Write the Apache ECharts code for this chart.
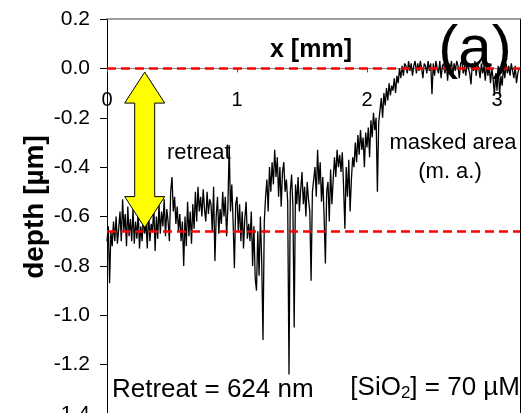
<!DOCTYPE html>
<html>
<head>
<meta charset="utf-8">
<script src="https://cdn.jsdelivr.net/npm/echarts@6/dist/echarts.min.js"></script>
<style>
  html, body { margin: 0; padding: 0; background: #fff; }
  #chart { width: 522px; height: 413px; }
</style>
</head>
<body>
<div id="chart"></div>
<script>
// Surface profile across the etched region into the masked area
const xTickValues = [0, 1, 2, 3];
const xRange = [0, 3.177];
const depthRange = [-1.4, 0.2];
const depthStep = 0.2;
const surfaceLevel = 0;        // original surface (masked area)
const etchedLevel = -0.656;    // mean level of the etched region

// [x (mm), depth (µm)]
const profile = [
  [0.00,-0.70],[0.01,-0.64],[0.02,-0.87],[0.03,-0.66],[0.04,-0.72],[0.05,-0.62],[0.06,-0.70],[0.07,-0.60],[0.08,-0.71],[0.09,-0.65],
  [0.10,-0.58],[0.11,-0.70],[0.12,-0.53],[0.13,-0.66],[0.14,-0.59],[0.15,-0.72],[0.16,-0.56],[0.17,-0.68],[0.18,-0.61],[0.19,-0.70],
  [0.20,-0.57],[0.21,-0.71],[0.22,-0.62],[0.23,-0.69],[0.24,-0.58],[0.25,-0.73],[0.26,-0.64],[0.27,-0.70],[0.28,-0.60],[0.29,-0.67],
  [0.30,-0.62],[0.31,-0.73],[0.32,-0.58],[0.33,-0.70],[0.34,-0.63],[0.35,-0.66],[0.36,-0.56],[0.37,-0.74],[0.38,-0.60],[0.39,-0.69],
  [0.40,-0.55],[0.41,-0.67],[0.42,-0.58],[0.43,-0.64],[0.44,-0.53],[0.45,-0.68],[0.46,-0.57],[0.47,-0.62],[0.48,-0.70],[0.49,-0.50],
  [0.50,-0.44],[0.51,-0.58],[0.52,-0.52],[0.53,-0.63],[0.54,-0.56],[0.55,-0.66],[0.56,-0.59],[0.57,-0.70],[0.58,-0.62],[0.59,-0.80],
  [0.60,-0.60],[0.61,-0.72],[0.62,-0.54],[0.63,-0.68],[0.64,-0.58],[0.65,-0.71],[0.66,-0.55],[0.67,-0.65],[0.68,-0.50],[0.69,-0.62],
  [0.70,-0.48],[0.71,-0.58],[0.72,-0.52],[0.73,-0.60],[0.74,-0.49],[0.75,-0.57],[0.76,-0.62],[0.77,-0.50],[0.78,-0.59],[0.79,-0.53],
  [0.80,-0.55],[0.81,-0.66],[0.82,-0.48],[0.83,-0.78],[0.84,-0.60],[0.85,-0.52],[0.86,-0.67],[0.87,-0.57],[0.88,-0.63],[0.89,-0.50],
  [0.90,-0.60],[0.91,-0.52],[0.92,-0.68],[0.93,-0.56],[0.94,-0.31],[0.95,-0.58],[0.96,-0.47],[0.97,-0.62],[0.98,-0.81],[0.99,-0.55],
  [1.00,-0.52],[1.01,-0.66],[1.02,-0.55],[1.03,-0.70],[1.04,-0.58],[1.05,-0.73],[1.06,-0.61],[1.07,-0.54],[1.08,-0.69],[1.09,-0.63],
  [1.10,-0.70],[1.11,-0.58],[1.12,-0.80],[1.13,-0.64],[1.14,-0.85],[1.15,-0.90],[1.16,-0.66],[1.17,-0.84],[1.18,-0.60],[1.19,-0.78],
  [1.20,-1.10],[1.21,-0.62],[1.22,-0.52],[1.23,-0.45],[1.24,-0.58],[1.25,-0.40],[1.26,-0.50],[1.27,-0.38],[1.28,-0.47],[1.29,-0.33],
  [1.30,-0.44],[1.31,-0.36],[1.32,-0.52],[1.33,-0.40],[1.34,-0.56],[1.35,-0.42],[1.36,-0.38],[1.37,-0.50],[1.38,-0.45],[1.39,-0.54],
  [1.40,-1.24],[1.41,-0.50],[1.42,-0.43],[1.43,-0.56],[1.44,-1.05],[1.45,-0.47],[1.46,-0.55],[1.47,-0.44],[1.48,-0.58],[1.49,-0.49],
  [1.50,-0.42],[1.51,-0.55],[1.52,-0.48],[1.53,-0.60],[1.54,-0.46],[1.55,-0.53],[1.56,-0.58],[1.57,-0.86],[1.58,-0.50],[1.59,-0.45],
  [1.60,-0.40],[1.61,-0.52],[1.62,-0.33],[1.63,-0.47],[1.64,-0.38],[1.65,-0.54],[1.66,-0.44],[1.67,-0.60],[1.68,-0.79],[1.69,-0.50],
  [1.70,-0.46],[1.71,-0.62],[1.72,-0.41],[1.73,-0.55],[1.74,-0.45],[1.75,-0.36],[1.76,-0.44],[1.77,-0.33],[1.78,-0.40],[1.79,-0.35],
  [1.80,-0.42],[1.81,-0.34],[1.82,-0.48],[1.83,-0.65],[1.84,-0.40],[1.85,-0.52],[1.86,-0.37],[1.87,-0.58],[1.88,-0.45],[1.89,-0.36],
  [1.90,-0.40],[1.91,-0.30],[1.92,-0.38],[1.93,-0.27],[1.94,-0.35],[1.95,-0.25],[1.96,-0.33],[1.97,-0.28],[1.98,-0.40],[1.99,-0.26],
  [2.00,-0.32],[2.01,-0.24],[2.02,-0.36],[2.03,-0.21],[2.04,-0.28],[2.05,-0.18],[2.06,-0.25],[2.07,-0.20],[2.08,-0.50],[2.09,-0.22],
  [2.10,-0.17],[2.11,-0.12],[2.12,-0.20],[2.13,-0.10],[2.14,-0.15],[2.15,-0.08],[2.16,-0.13],[2.17,-0.06],[2.18,-0.11],[2.19,-0.07],
  [2.20,-0.09],[2.21,-0.04],[2.22,-0.10],[2.23,-0.03],[2.24,-0.06],[2.25,0.00],[2.26,-0.04],[2.27,0.01],[2.28,-0.03],[2.29,0.02],
  [2.30,0.01],[2.31,-0.02],[2.32,0.03],[2.33,-0.01],[2.34,0.02],[2.35,-0.03],[2.36,0.01],[2.37,0.03],[2.38,-0.02],[2.39,0.02],
  [2.40,-0.01],[2.41,0.03],[2.42,0.00],[2.43,-0.04],[2.44,0.02],[2.45,0.01],[2.46,-0.02],[2.47,0.03],[2.48,-0.01],[2.49,0.02],
  [2.50,-0.105],[2.51,0.02],[2.52,-0.03],[2.53,0.03],[2.54,0.00],[2.55,-0.02],[2.56,0.03],[2.57,-0.04],[2.58,0.01],[2.59,0.02],
  [2.60,-0.02],[2.61,0.03],[2.62,-0.05],[2.63,0.02],[2.64,0.00],[2.65,0.03],[2.66,-0.03],[2.67,0.02],[2.68,-0.01],[2.69,0.03],
  [2.70,0.01],[2.71,-0.04],[2.72,0.02],[2.73,0.03],[2.74,-0.02],[2.75,0.01],[2.76,-0.03],[2.77,0.02],[2.78,0.00],[2.79,-0.02],
  [2.80,-0.065],[2.81,0.02],[2.82,-0.01],[2.83,0.03],[2.84,-0.03],[2.85,0.02],[2.86,0.00],[2.87,-0.04],[2.88,0.02],[2.89,-0.02],
  [2.90,0.01],[2.91,-0.05],[2.92,0.02],[2.93,-0.03],[2.94,0.01],[2.95,-0.06],[2.96,0.00],[2.97,-0.04],[2.98,-0.11],[2.99,-0.02],
  [3.00,-0.09],[3.01,0.01],[3.02,-0.11],[3.03,-0.03],[3.04,-0.07],[3.05,0.01],[3.06,-0.04],[3.07,0.02],[3.08,-0.02],[3.09,0.01],
  [3.10,-0.03],[3.11,0.02],[3.12,-0.01],[3.13,-0.04],[3.14,0.01],[3.15,-0.06],[3.16,-0.02],[3.17,0.00]
];

// Double arrow marking the retreat between the two reference levels
const arrowX = 0.29;
const arrowTop = -0.015;
const arrowBottom = -0.645;

const FONT = '"Liberation Sans", Arial, sans-serif';

// Plot area (pixels)
const GRID = { left: 107, top: 19, width: 413, height: 395 };
// The x axis crosses the depth axis at depth 0: shift it up from the bottom edge
const xAxisOffset = -GRID.height * (0 - depthRange[0]) / (depthRange[1] - depthRange[0]);

const chart = echarts.init(document.getElementById('chart'), null, { renderer: 'canvas' });

chart.setOption({
  animation: false,
  backgroundColor: '#fff',
  grid: Object.assign({ containLabel: false, outerBoundsMode: 'none' }, GRID),
  xAxis: [
    {
      type: 'value',
      position: 'bottom',
      offset: xAxisOffset,
      min: xRange[0],
      max: xRange[1],
      axisLine: { show: true, onZero: false, lineStyle: { color: '#888', width: 1 } },
      axisTick: { show: true, inside: false, length: 4, customValues: xTickValues, lineStyle: { color: '#555' } },
      axisLabel: { customValues: xTickValues, fontSize: 20, fontFamily: FONT, color: '#000', margin: 22 },
      splitLine: { show: false }
    },
    {
      type: 'value',
      position: 'top',
      min: xRange[0],
      max: xRange[1],
      axisLine: { show: true, onZero: false, lineStyle: { color: '#808080', width: 1.5 } },
      axisTick: { show: false },
      axisLabel: { show: false },
      splitLine: { show: false }
    }
  ],
  yAxis: [
    {
      type: 'value',
      min: depthRange[0],
      max: depthRange[1],
      interval: depthStep,
      axisLine: { show: true, onZero: false, lineStyle: { color: '#000', width: 1 } },
      axisTick: { show: true, inside: false, length: 7, lineStyle: { color: '#000' } },
      axisLabel: {
        fontSize: 21, fontFamily: FONT, color: '#000', margin: 17,
        formatter: v => (Math.abs(v) < 1e-9 ? 0 : v).toFixed(1)
      },
      splitLine: { show: false }
    },
    {
      type: 'value',
      position: 'right',
      min: depthRange[0],
      max: depthRange[1],
      axisLine: { show: true, onZero: false, lineStyle: { color: '#000', width: 1 } },
      axisTick: { show: false },
      axisLabel: { show: false },
      splitLine: { show: false }
    }
  ],
  series: [
    {
      type: 'line',
      xAxisIndex: 0,
      yAxisIndex: 0,
      data: profile,
      showSymbol: false,
      symbol: 'none',
      lineStyle: { color: '#000', width: 1.3 },
      z: 2
    },
    {
      type: 'line',
      xAxisIndex: 0,
      yAxisIndex: 0,
      data: [],
      z: 4,
      markLine: {
        silent: true,
        symbol: 'none',
        label: { show: false },
        lineStyle: { color: '#ff0000', width: 2.5, type: [9, 5] },
        data: [{ yAxis: surfaceLevel }, { yAxis: etchedLevel }]
      }
    }
  ]
});

const arrowTopPx = chart.convertToPixel({ seriesIndex: 0 }, [arrowX, arrowTop]);
const arrowBotPx = chart.convertToPixel({ seriesIndex: 0 }, [arrowX, arrowBottom]);
const cx = arrowTopPx[0], y0 = arrowTopPx[1], y1 = arrowBotPx[1];
const head = 31, hw = 20, sw = 10;

chart.setOption({
  graphic: [
    {
      type: 'polygon',
      z: 100,
      shape: {
        points: [
          [cx, y0], [cx + hw, y0 + head], [cx + sw, y0 + head], [cx + sw, y1 - head],
          [cx + hw, y1 - head], [cx, y1], [cx - hw, y1 - head], [cx - sw, y1 - head],
          [cx - sw, y0 + head], [cx - hw, y0 + head]
        ]
      },
      style: { fill: '#ffff00', stroke: '#000', lineWidth: 1 }
    },
    {
      type: 'text', z: 100, x: 311, y: 50,
      style: { text: 'x [mm]', font: 'bold 25px ' + FONT, fill: '#000', align: 'center', verticalAlign: 'middle' }
    },
    {
      type: 'text', z: 100, x: 35, y: 207, rotation: Math.PI / 2,
      style: { text: 'depth [µm]', font: 'bold 28px ' + FONT, fill: '#000', align: 'center', verticalAlign: 'middle' }
    },
    {
      type: 'text', z: 100, x: 475, y: 50,
      style: { text: '(a)', font: '60px ' + FONT, fill: '#000', align: 'center', verticalAlign: 'middle' }
    },
    {
      type: 'text', z: 100, x: 167, y: 153,
      style: { text: 'retreat', font: '22px ' + FONT, fill: '#000', align: 'left', verticalAlign: 'middle' }
    },
    {
      type: 'text', z: 100, x: 453, y: 143,
      style: { text: 'masked area', font: '22px ' + FONT, fill: '#000', align: 'center', verticalAlign: 'middle' }
    },
    {
      type: 'text', z: 100, x: 450, y: 172,
      style: { text: '(m. a.)', font: '22px ' + FONT, fill: '#000', align: 'center', verticalAlign: 'middle' }
    },
    {
      type: 'text', z: 100, x: 112, y: 390,
      style: { text: 'Retreat = 624 nm', font: '26px ' + FONT, fill: '#000', align: 'left', verticalAlign: 'middle' }
    },
    {
      type: 'text', z: 100, x: 520, y: 388,
      style: {
        text: '[SiO{sub|2}] = 70 µM', font: '26px ' + FONT, fill: '#000', align: 'right', verticalAlign: 'middle',
        rich: { sub: { fontSize: 17, fontFamily: FONT, verticalAlign: 'bottom', padding: [10, 0, 0, 0] } }
      }
    }
  ]
});
</script>
</body>
</html>
